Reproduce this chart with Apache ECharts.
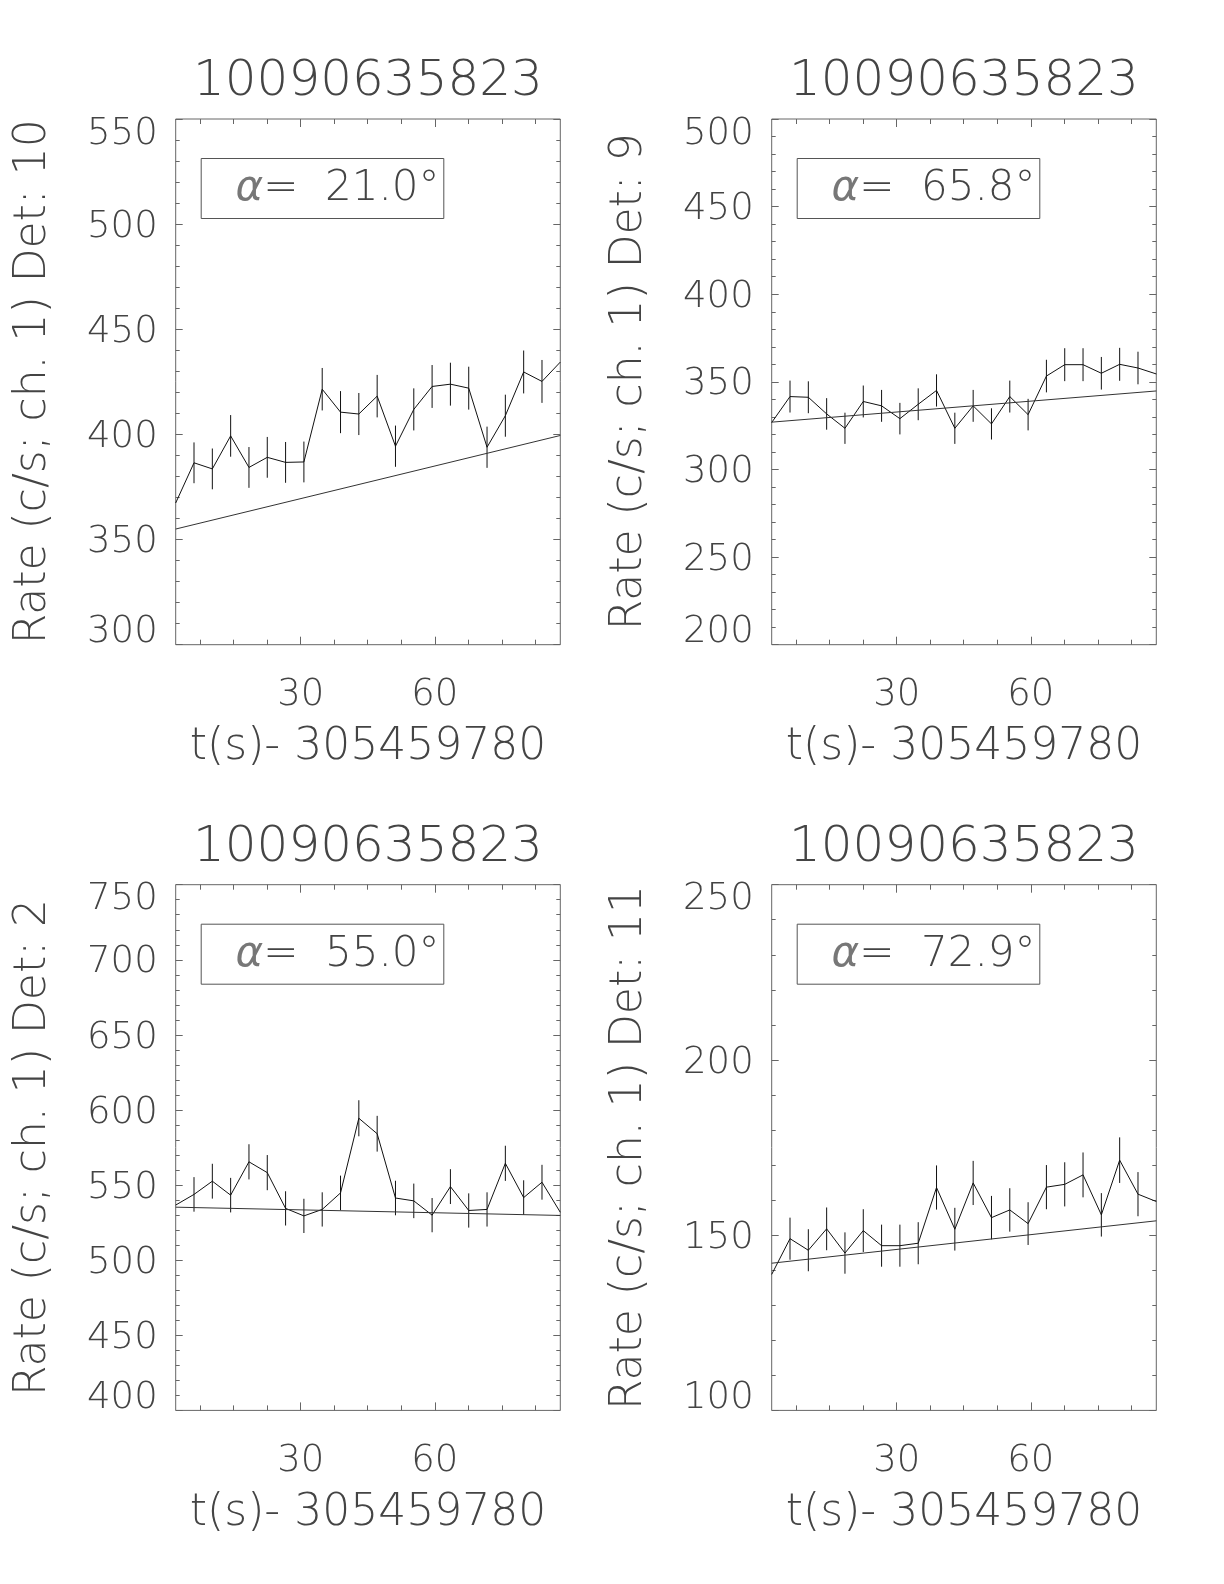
<!DOCTYPE html>
<html>
<head>
<meta charset="utf-8">
<script src="https://cdn.jsdelivr.net/npm/echarts@6/dist/echarts.min.js"></script>
<style>
html,body{margin:0;padding:0;background:#fff;}
#chart{width:1224px;height:1584px;}
</style>
</head>
<body>
<div id="chart"></div>
<script>
// ---- data ----
const obsId = '10090635823';
const timeLabel = 't(s)- 305459780';
const times = [2.048, 6.144, 10.240, 14.336, 18.432, 22.528, 26.624, 30.720, 34.816, 38.912, 43.008,
               47.104, 51.200, 55.296, 59.392, 63.488, 67.584, 71.680, 75.776, 79.872, 83.968, 88.064];
const xMajorTicks = [30, 60];
const xMinorTicks = [7.5, 15, 22.5, 37.5, 45, 52.5, 67.5, 75, 82.5];

const rateDet10 = [367.4, 386.5, 383.6, 399.3, 384.3, 389.1, 386.7, 386.9, 421.5, 410.6, 409.7,
                   418.2, 394.4, 411.9, 422.8, 423.9, 422.0, 393.9, 408.9, 429.7, 425.2, 434.4];
const errDet10  = [9.5, 9.7, 9.7, 9.9, 9.7, 9.7, 9.7, 9.7, 10.1, 10.0, 10.0,
                   10.1, 9.8, 10.0, 10.2, 10.2, 10.2, 9.8, 10.0, 10.2, 10.2, 10.3];
const fitDet10  = [355.0, 399.5];

const rateDet9 = [326.8, 341.6, 341.2, 331.7, 323.5, 338.8, 336.3, 329.0, 337.2, 345.1, 323.5,
                  336.3, 326.0, 341.6, 331.3, 353.3, 359.8, 359.8, 354.9, 360.0, 357.9, 354.5];
const errDet9  = [8.9, 9.1, 9.1, 9.0, 8.9, 9.1, 9.1, 9.0, 9.1, 9.2, 8.9,
                  9.1, 8.9, 9.1, 9.0, 9.3, 9.4, 9.4, 9.3, 9.4, 9.3, 9.3];
const fitDet9  = [327.0, 344.8];

const rateDet2 = [536.7, 543.8, 552.6, 543.3, 565.5, 558.3, 534.5, 529.5, 533.8, 544.8, 594.5,
                  584.2, 541.4, 539.5, 530.0, 549.0, 533.1, 533.8, 564.5, 541.7, 551.9, 531.9];
const errDet2  = [11.4, 11.5, 11.6, 11.5, 11.7, 11.7, 11.4, 11.4, 11.4, 11.5, 12.0,
                  11.9, 11.5, 11.5, 11.4, 11.6, 11.4, 11.4, 11.7, 11.5, 11.6, 11.4];
const fitDet2  = [535.3, 529.8];

const rateDet11 = [138.8, 149.0, 145.7, 151.8, 144.9, 151.3, 147.0, 147.0, 147.7, 163.6, 151.7,
                   164.9, 155.0, 157.2, 153.3, 163.7, 164.5, 167.2, 155.8, 171.4, 161.7, 159.6];
const errDet11  = [5.8, 6.0, 6.0, 6.1, 5.9, 6.1, 6.0, 6.0, 6.0, 6.3, 6.1,
                   6.3, 6.2, 6.2, 6.1, 6.3, 6.3, 6.4, 6.2, 6.5, 6.3, 6.2];
const fitDet11  = [142.0, 154.1];

const detectors = ['10', '9', '2', '11'];
const alphas = ['21.0', '65.8', '55.0', '72.9'];
const yMins = [300, 200, 400, 100];
const yMaxs = [550, 500, 750, 250];

// ---- layout / style ----
const FONT = '"DejaVu Sans", "Liberation Sans", sans-serif';
const ALPHA_FONT = '"DejaVu Sans ExtraLight", "DejaVu Sans", sans-serif';
const TXT = '#444';
const AX = '#666';
const GW = 384.6, GH = 525.7;
const gridPos = [[175.7, 119], [771.7, 119], [175.7, 884.7], [771.7, 884.7]];
const panels = [
  {rate: rateDet10, err: errDet10, fit: fitDet10},
  {rate: rateDet9, err: errDet9, fit: fitDet9},
  {rate: rateDet2, err: errDet2, fit: fitDet2},
  {rate: rateDet11, err: errDet11, fit: fitDet11}
];
const X_MIN = times[0], X_MAX = times[times.length - 1];

const grids = [], xAxes = [], yAxes = [], series = [], titles = [], graphics = [];
const tickStyle = {color: AX, width: 1};
const lblFont = {fontSize: 37, fontFamily: FONT, fontWeight: 200, color: TXT};

panels.forEach((p, i) => {
  const [gx, gy] = gridPos[i];
  grids.push({left: gx, top: gy, width: GW, height: GH, show: true,
              borderColor: AX, borderWidth: 1, backgroundColor: 'transparent'});
  const xBase = {type: 'value', gridIndex: i, min: X_MIN, max: X_MAX,
                 axisLine: {show: false}, splitLine: {show: false}};
  xAxes.push(Object.assign({}, xBase, {
    position: 'bottom',
    axisTick: {show: true, inside: true, length: 8, customValues: xMajorTicks, lineStyle: tickStyle},
    axisLabel: Object.assign({show: true, customValues: xMajorTicks, margin: 32}, lblFont),
    name: timeLabel, nameLocation: 'middle', nameGap: 81,
    nameTextStyle: {fontSize: 44, fontFamily: FONT, fontWeight: 200, color: TXT}
  }));
  xAxes.push(Object.assign({}, xBase, {
    position: 'bottom',
    axisTick: {show: true, inside: true, length: 5, customValues: xMinorTicks, lineStyle: tickStyle},
    axisLabel: {show: false}
  }));
  xAxes.push(Object.assign({}, xBase, {
    position: 'top',
    axisTick: {show: true, inside: true, length: 8, customValues: xMajorTicks, lineStyle: tickStyle},
    axisLabel: {show: false}
  }));
  xAxes.push(Object.assign({}, xBase, {
    position: 'top',
    axisTick: {show: true, inside: true, length: 5, customValues: xMinorTicks, lineStyle: tickStyle},
    axisLabel: {show: false}
  }));
  const yBase = {type: 'value', gridIndex: i, min: yMins[i], max: yMaxs[i], interval: 50,
                 axisLine: {show: false}, splitLine: {show: false},
                 axisTick: {show: true, inside: true, length: 7, lineStyle: tickStyle},
                 minorTick: {show: true, splitNumber: 5, length: 4, lineStyle: tickStyle}};
  const lo = yMins[i], hi = yMaxs[i];
  yAxes.push(Object.assign({}, yBase, {
    position: 'left',
    axisLabel: Object.assign({show: true, margin: 18,
      formatter: v => (v === lo ? '{lo|' + v + '}' : v === hi ? '{hi|' + v + '}' : '{m|' + v + '}'),
      rich: {
        lo: Object.assign({padding: [0, 0, 24, 0]}, lblFont),
        hi: Object.assign({padding: [30, 0, 0, 0]}, lblFont),
        m: Object.assign({padding: [6, 0, 0, 0]}, lblFont)
      }}, lblFont),
    name: 'Rate (c/s; ch. 1) Det: ' + detectors[i], nameLocation: 'middle', nameRotate: 90, nameGap: 120,
    nameTextStyle: {fontSize: 44, fontFamily: FONT, fontWeight: 200, color: TXT}
  }));
  yAxes.push(Object.assign({}, yBase, {position: 'right', axisLabel: {show: false}}));

  series.push({
    type: 'line', xAxisIndex: 4 * i, yAxisIndex: 2 * i, showSymbol: false, animation: false,
    data: times.map((t, k) => [t, p.rate[k]]),
    lineStyle: {color: '#111', width: 1}
  });
  series.push({
    type: 'line', xAxisIndex: 4 * i, yAxisIndex: 2 * i, showSymbol: false, animation: false,
    data: [[X_MIN, p.fit[0]], [X_MAX, p.fit[1]]],
    lineStyle: {color: '#333', width: 1}
  });
  const last = times.length - 1;
  series.push({
    type: 'custom', xAxisIndex: 4 * i, yAxisIndex: 2 * i, animation: false,
    data: times.map((t, k) => [t, p.rate[k] - p.err[k], p.rate[k] + p.err[k]]),
    encode: {x: 0, y: [1, 2]},
    renderItem: (params, api) => {
      // bars of the two bins that sit on the frame are hidden by it in the original
      if (params.dataIndex === 0 || params.dataIndex === last) return null;
      const a = api.coord([api.value(0), api.value(1)]);
      const b = api.coord([api.value(0), api.value(2)]);
      return {type: 'line', shape: {x1: a[0], y1: a[1], x2: b[0], y2: b[1]},
              style: {stroke: '#111', lineWidth: 1}};
    }
  });

  titles.push({text: obsId, left: gx + GW / 2 - 175, top: gy - 62, padding: 0,
               textStyle: {fontSize: 50, fontFamily: FONT, fontWeight: 200, color: TXT}});

  const bx = gx + 25.5, by = gy + 39.5, bw = 242.6, bh = 60;
  graphics.push({type: 'rect', shape: {x: bx, y: by, width: bw, height: bh},
                 style: {fill: 'none', stroke: '#555', lineWidth: 1}});
  graphics.push({type: 'text', x: bx + bw / 2 + 15, y: by + bh / 2 + 1,
                 style: {text: '{a|α}=  ' + alphas[i] + '°', align: 'center', verticalAlign: 'middle',
                         fontSize: 42, fontFamily: FONT, fontWeight: 200, fill: TXT,
                         rich: {a: {fontStyle: 'italic', fontSize: 42, fontFamily: ALPHA_FONT, fontWeight: 200, fill: '#777'}}}});
});

const chart = echarts.init(document.getElementById('chart'), null, {renderer: 'canvas'});
chart.setOption({
  animation: false,
  backgroundColor: '#fff',
  title: titles,
  grid: grids,
  xAxis: xAxes,
  yAxis: yAxes,
  series: series,
  graphic: graphics
});
</script>
</body>
</html>
